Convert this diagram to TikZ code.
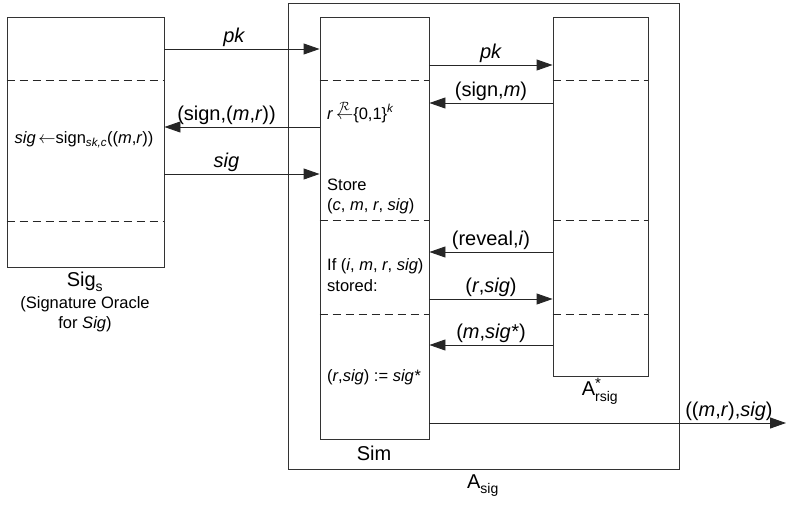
\documentclass[tikz,border=0pt]{standalone}
\usepackage{fontspec}
\setmainfont{Liberation Sans}
\usetikzlibrary{arrows.meta,positioning}
\newcommand{\labfont}{\fontsize{20}{24}\selectfont}
\newcommand{\txtfont}{\fontsize{16.5}{20.5}\selectfont}
\tikzset{
  part box/.style={draw=black!80,line width=0.9pt,inner sep=0pt},
  divider/.style={draw=black!85,line width=1pt,dash pattern=on 8pt off 5pt},
  msg/.style={-{Triangle[length=16pt,width=11pt]},draw=black!85,line width=0.9pt},
  msg label/.style={font=\labfont,inner sep=2pt,above},
  box label/.style={font=\labfont,inner sep=0pt},
  step text/.style={font=\txtfont,inner sep=2pt,anchor=west,align=left}
}

\begin{document}
\begin{tikzpicture}[x=1pt,y=-1pt]
  \useasboundingbox (0,0) rectangle (786,506);
  % the three parties and the outer adversary
  \node[part box,minimum width=391,minimum height=466] (asig) at (483.5,236) {};
  \node[part box,minimum width=157,minimum height=250] (oracle) at (85.5,142) {};
  \node[part box,minimum width=109,minimum height=422] (sim) at (374.5,228) {};
  \node[part box,minimum width=95,minimum height=359] (adv) at (600.5,196.5) {};
  \foreach \y in {80,221}
    \draw[divider] (oracle.west |- 0,\y) -- (oracle.east |- 0,\y);
  \foreach \y in {80,220,314} {
    \draw[divider] (sim.west |- 0,\y) -- (sim.east |- 0,\y);
    \draw[divider] (adv.west |- 0,\y) -- (adv.east |- 0,\y);
  }

  % box captions
  \node[box label] (oraclename) at (85,282) {Sig\textsubscript{\raisebox{-2pt}{s}}};
  \node[font=\txtfont,align=center,inner sep=0pt,anchor=north] (oracledesc)
    at (85,296) {(Signature Oracle\\for \textit{Sig})};
  \node[box label] (simname) at (374,453) {Sim};
  \node[box label] (advname) at (600,391) {A$^{\mbox{\fontsize{15}{15}\selectfont *}}_{\mbox{\fontsize{14}{14}\selectfont rsig}}$};
  \node[box label] (asigname) at (483,486) {A\textsubscript{\raisebox{-2pt}{sig}}};

  % what happens inside
  \node[font=\txtfont,inner sep=0pt] (signstep) at (84,140)
    {\textit{sig}\,$\leftarrow$sign\textsubscript{\textit{sk,c}}((\textit{m},\textit{r}))};
  \node[step text] (pick) at (325,112)
    {\textit{r}\,$\stackrel{\scriptstyle\mathcal{R}}{\leftarrow}$\{0,1\}\textsuperscript{\textit{k}}};
  \node[step text] (store) at (325,196.5)
    {Store\\(\textit{c}, \textit{m}, \textit{r}, \textit{sig})};
  \node[step text] (lookup) at (325,275)
    {If (\textit{i}, \textit{m}, \textit{r}, \textit{sig})\\stored:};
  \node[step text] (assign) at (325,377)
    {(\textit{r},\textit{sig}) := \textit{sig*}};

  % messages
  \draw[msg] (oracle.east |- 0,49) -- node[msg label,pos=0.45] (pkone) {\textit{pk}} (sim.west |- 0,49);
  \draw[msg] (sim.west |- 0,127) -- node[msg label,pos=0.6] (signreq) {(sign,(\textit{m},\textit{r}))} (oracle.east |- 0,127);
  \draw[msg] (oracle.east |- 0,174) -- node[msg label,pos=0.4] (sigback) {\textit{sig}} (sim.west |- 0,174);
  \draw[msg] (sim.east |- 0,65) -- node[msg label] (pktwo) {\textit{pk}} (adv.west |- 0,65);
  \draw[msg] (adv.west |- 0,103) -- node[msg label] (query) {(sign,\textit{m})} (sim.east |- 0,103);
  \draw[msg] (adv.west |- 0,252) -- node[msg label] (reveal) {(reveal,\textit{i})} (sim.east |- 0,252);
  \draw[msg] (sim.east |- 0,299) -- node[msg label] (answer) {(\textit{r},\textit{sig})} (adv.west |- 0,299);
  \draw[msg] (adv.west |- 0,345) -- node[msg label] (forgery) {(\textit{m},\textit{sig*})} (sim.east |- 0,345);
  \coordinate (out) at (786,423);
  \draw[msg] (sim.east |- out) -- node[msg label,pos=0.84] (result) {((\textit{m},\textit{r}),\textit{sig})} (out);
\end{tikzpicture}
\end{document}
